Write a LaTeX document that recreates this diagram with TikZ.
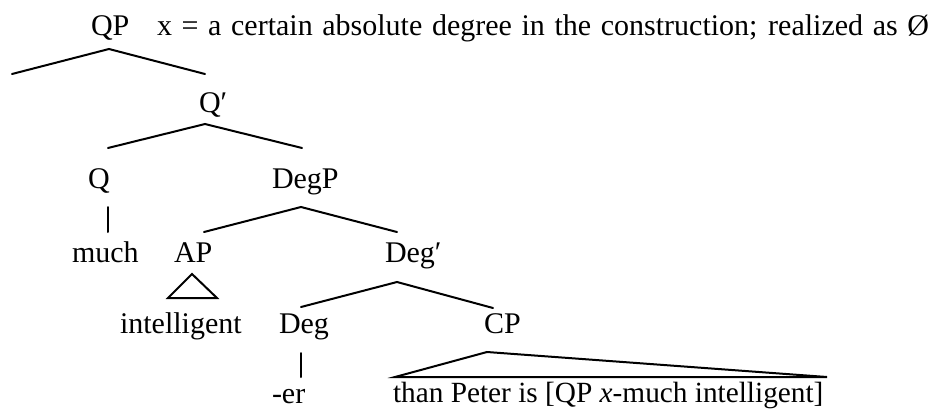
\documentclass[tikz,border=0pt]{standalone}
\usepackage{fontspec}
\setmainfont{Liberation Serif}
\begin{document}
\begin{tikzpicture}[x=1pt,y=-1pt,
  lbl/.style={anchor=base west,inner sep=0pt,outer sep=0pt,font=\fontsize{30}{35}\selectfont},
  branch/.style={line width=2pt,line cap=round,line join=miter}]
\useasboundingbox (0,0) rectangle (933,410);
% labels
\node[lbl] (QP) at (91,35) {QP};
\node[lbl] (note) at (157,35) {\makebox[772pt][s]{x = a certain absolute degree in the construction; realized as Ø}};
\node[lbl] (Qbar) at (199,112) {Q′};
\node[lbl] (Q) at (88,188) {Q};
\node[lbl] (DegP) at (272,188) {DegP};
\node[lbl] (much) at (72,262) {much};
\node[lbl] (AP) at (174,262) {AP};
\node[lbl] (Degbar) at (385,262) {Deg′};
\node[lbl] (intel) at (120,333) {intelligent};
\node[lbl] (Deg) at (279,333) {Deg};
\node[lbl] (CP) at (484,333) {CP};
\node[lbl] (er) at (272,403) {-er};
\node[lbl,font=\fontsize{29.3}{34}\selectfont] (than) at (393,402) {than Peter is [QP \textit{x}-much intelligent]};
% branch points
\coordinate (QPtop) at (109,49);
\coordinate (QPleft) at (12,74);
\coordinate (QPright) at (205,74);
\coordinate (Qbartop) at (205,124);
\coordinate (Qbarleft) at (108,148);
\coordinate (Qbarright) at (302,148);
\coordinate (Qtop) at (108,207);
\coordinate (Qbot) at (108,232);
\coordinate (DegPtop) at (301,207);
\coordinate (DegPleft) at (204,232);
\coordinate (DegPright) at (397,232);
\coordinate (APtop) at (192,274);
\coordinate (APleft) at (168,298);
\coordinate (APright) at (217,298);
\coordinate (Degbartop) at (397,282);
\coordinate (Degbarleft) at (301,307);
\coordinate (Degbarright) at (493,308);
\coordinate (Degtop) at (301,353);
\coordinate (Degbot) at (301,377);
\coordinate (CPtop) at (487,352);
\coordinate (CPleft) at (395,377);
\coordinate (CPright) at (827,377);
% connectors
\draw[branch] (QPleft) -- (QPtop) -- (QPright);
\draw[branch] (Qbarleft) -- (Qbartop) -- (Qbarright);
\draw[branch] (Qtop) -- (Qbot);
\draw[branch] (DegPleft) -- (DegPtop) -- (DegPright);
\draw[branch] (APleft) -- (APtop) -- (APright) -- cycle;
\draw[branch] (Degbarleft) -- (Degbartop) -- (Degbarright);
\draw[branch] (Degtop) -- (Degbot);
\draw[branch] (CPleft) -- (CPtop) -- (CPright) -- cycle;
\end{tikzpicture}
\end{document}
